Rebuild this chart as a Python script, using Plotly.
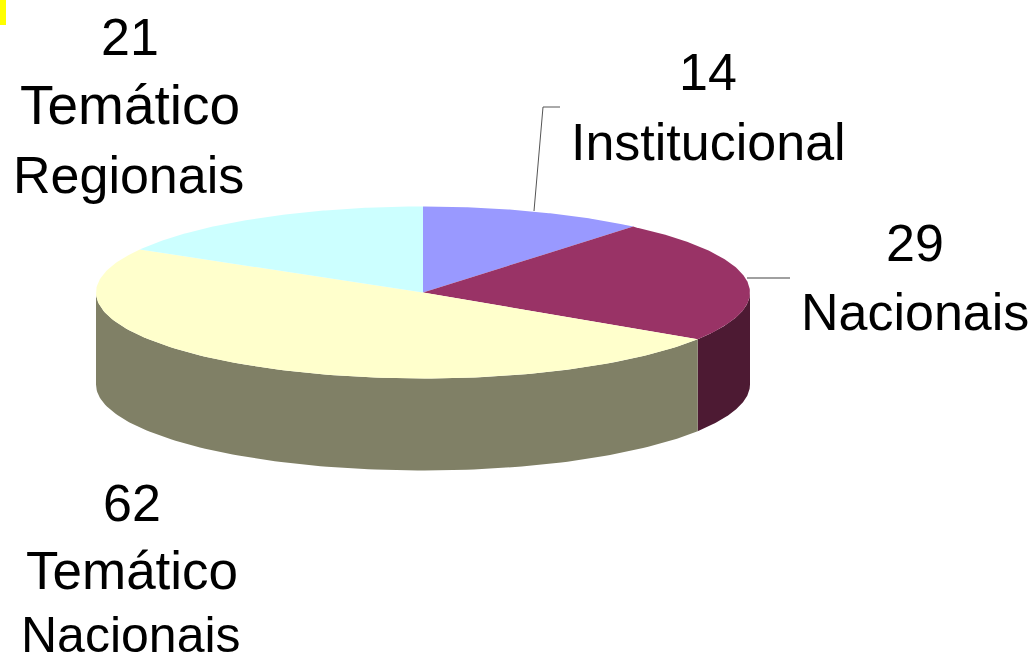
import numpy as np
import plotly.graph_objects as go

categories = ["Institucional", "Nacionais", "Temático Nacionais", "Temático Regionais"]
values = [14, 29, 62, 21]
label_lines = [["14", "Institucional"], ["29", "Nacionais"],
               ["62", "Temático", "Nacionais"], ["21", "Temático", "Regionais"]]
top_colors = ["#9999FF", "#993366", "#FFFFCC", "#CCFFFF"]
side_colors = ["#4D4D80", "#4D1A33", "#808066", "#668080"]

W, H = 1033, 656
CX, CY, RX, RY, DEPTH = 423, 292.5, 327, 86, 92
label_pos = [[(708, 72), (708, 142)], [(915, 243), (915, 312)],
             [(132, 503), (132, 570), (131, 635)], [(130, 37), (130, 105), (128, 175)]]
label_sizes = [[52, 52], [52, 52], [52, 53, 50], [52, 55, 52]]
FONT = "Liberation Sans, Arial, sans-serif"


def pt(deg, dy=0.0):
    a = np.radians(deg)
    return CX + RX * np.sin(a), CY - RY * np.cos(a) + dy


fig = go.Figure()
edges = np.concatenate([[0], np.cumsum(values) / sum(values) * 360])

# sides (visible front half only: 90..270 degrees clockwise from the top)
for i, col in enumerate(side_colors):
    a0, a1 = max(edges[i], 90), min(edges[i + 1], 270)
    if a1 <= a0:
        continue
    t = np.linspace(a0, a1, 120)
    xt, yt = pt(t)
    xb, yb = pt(t, DEPTH)
    fig.add_trace(go.Scatter(x=np.r_[xt, xb[::-1]], y=np.r_[yt, yb[::-1]], fill="toself",
                             fillcolor=col, mode="lines", line=dict(width=0),
                             hoverinfo="skip", showlegend=False))

# top slices
for i, (name, col) in enumerate(zip(categories, top_colors)):
    t = np.linspace(edges[i], edges[i + 1], 160)
    xt, yt = pt(t)
    fig.add_trace(go.Scatter(x=np.r_[CX, xt, CX], y=np.r_[CY, yt, CY], fill="toself",
                             fillcolor=col, mode="lines", line=dict(width=0),
                             name=name, hoverinfo="name", showlegend=False))

# leader lines
fig.add_trace(go.Scatter(x=[534, 543, 560], y=[211, 107, 107], mode="lines",
                         line=dict(color="#555555", width=1), hoverinfo="skip", showlegend=False))
fig.add_trace(go.Scatter(x=[747, 790], y=[278, 278], mode="lines",
                         line=dict(color="#808080", width=1.5), hoverinfo="skip", showlegend=False))

# labels
for lines, positions, sizes in zip(label_lines, label_pos, label_sizes):
    for s, (x, y), fs in zip(lines, positions, sizes):
        fig.add_annotation(x=x, y=y, xref="x", yref="y", text=s, showarrow=False,
                           xanchor="center", yanchor="middle",
                           font=dict(family=FONT, size=fs, color="#000000"))

fig.add_shape(type="rect", x0=0, x1=6, y0=0, y1=25, xref="x", yref="y",
              fillcolor="#FFFF00", line=dict(width=0))

fig.update_layout(width=W, height=H, margin=dict(l=0, r=0, t=0, b=0),
                  paper_bgcolor="white", plot_bgcolor="white", showlegend=False,
                  xaxis=dict(range=[0, W], visible=False, fixedrange=True),
                  yaxis=dict(range=[H, 0], visible=False, fixedrange=True))
fig.write_html("out.html", config=dict(displayModeBar=False),
               post_script="document.body.style.margin='0';document.body.style.overflow='hidden';")
